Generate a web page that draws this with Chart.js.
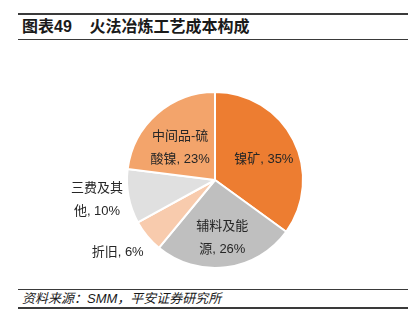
<!DOCTYPE html>
<html><head><meta charset="utf-8">
<script src="https://cdn.jsdelivr.net/npm/chart.js@4"></script>
<style>
html,body{margin:0;padding:0;background:#fff;width:411px;height:332px;overflow:hidden;font-family:"Liberation Sans","Noto Sans CJK SC",sans-serif;}
#title{position:absolute;left:18px;top:13px;width:390px;height:24px;border-top:2px solid #3a3a3a;border-bottom:1.5px solid #3a3a3a;font-weight:bold;font-size:16px;color:#1a1a1a;line-height:24px;}
#title span{margin-left:4px;}
#src{position:absolute;left:18px;top:289px;width:390px;height:17px;border-top:1px solid #3a3a3a;border-bottom:2px solid #3a3a3a;font-style:italic;font-size:13px;color:#1a1a1a;line-height:17px;}
#src span{margin-left:4px;}
#wrap{position:absolute;left:0;top:40px;width:411px;height:245px;}
</style></head>
<body>
<div id="title"><span>图表49&nbsp;&nbsp;&nbsp;&nbsp;火法冶炼工艺成本构成</span></div>
<div id="wrap"><canvas id="c"></canvas></div>
<div id="src"><span>资料来源：SMM，平安证券研究所</span></div>
<script>
const categories = ["镍矿", "辅料及能源", "折旧", "三费及其他", "中间品-硫酸镍"];
const values = [35, 26, 6, 10, 23];
const labelLines = [["镍矿, 35%"], ["辅料及能", "源, 26%"], ["折旧, 6%"], ["三费及其", "他, 10%"], ["中间品-硫", "酸镍, 23%"]];
const colors = ["#ED7D31", "#BFBFBF", "#F8CBAD", "#E0E0E0", "#F3A46B"];
const labelRadiusRatio = [0.6, 0.66, 1.38, 1.36, 0.54];
const labelAngleShift = [0.08, 0, 0.05, 0.02, -0.1];

const labelPlugin = {
  id: 'lbl',
  afterDatasetsDraw(chart) {
    const ctx = chart.ctx;
    const meta = chart.getDatasetMeta(0);
    ctx.save();
    ctx.font = '13px "Liberation Sans","Noto Sans CJK SC",sans-serif';
    ctx.fillStyle = '#262626';
    ctx.textAlign = 'center';
    ctx.textBaseline = 'middle';
    meta.data.forEach((arc, i) => {
      const p = arc.getProps(['x','y','startAngle','endAngle','outerRadius'], true);
      const a = (p.startAngle + p.endAngle) / 2 + labelAngleShift[i];
      const r = p.outerRadius * labelRadiusRatio[i];
      const cx = p.x + Math.cos(a) * r;
      const cy = p.y + Math.sin(a) * r;
      const lines = labelLines[i];
      const lh = 23;
      lines.forEach((t, k) => {
        ctx.fillText(t, cx, cy + (k - (lines.length - 1) / 2) * lh);
      });
    });
    ctx.restore();
  }
};

new Chart(document.getElementById('c'), {
  type: 'pie',
  data: {
    labels: categories,
    datasets: [{
      data: values,
      backgroundColor: colors,
      borderColor: '#ffffff',
      borderWidth: 2,
      hoverOffset: 0
    }]
  },
  options: {
    responsive: true,
    maintainAspectRatio: false,
    animation: false,
    radius: 88,
    layout: { padding: { left: 19, right: 0, top: 35, bottom: 0 } },
    plugins: { legend: { display: false }, tooltip: { enabled: false } }
  },
  plugins: [labelPlugin]
});
</script>
</body></html>
